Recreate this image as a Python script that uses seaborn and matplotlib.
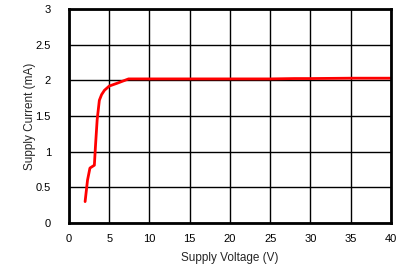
import matplotlib
matplotlib.use("Agg")
import matplotlib.pyplot as plt
import seaborn as sns
import pandas as pd

voltage = [2.0, 2.3, 2.6, 3.15, 3.3, 3.5, 3.77, 4.05, 4.4, 5.0, 6.0, 7.4, 10, 15, 20, 25, 28, 30, 35, 40]
current = [0.30, 0.60, 0.77, 0.81, 1.10, 1.45, 1.72, 1.80, 1.86, 1.92, 1.96, 2.02, 2.02, 2.02, 2.02, 2.02, 2.025, 2.025, 2.03, 2.03]

x_ticks = [0, 5, 10, 15, 20, 25, 30, 35, 40]
y_ticks = [0, 0.5, 1, 1.5, 2, 2.5, 3]
y_tick_labels = ["0", "0.5", "1", "1.5", "2", "2.5", "3"]

sns.set_style("white")
plt.rcParams['font.family'] = ['Liberation Sans', 'DejaVu Sans']

df = pd.DataFrame({"Supply Voltage (V)": voltage, "Supply Current (mA)": current})

fig = plt.figure(figsize=(4.06, 2.66), dpi=100)
ax = fig.add_axes([69/406, 1 - 223/266, (391 - 69)/406, (223 - 9)/266])
sns.lineplot(data=df, x="Supply Voltage (V)", y="Supply Current (mA)", ax=ax,
             color="#ff0000", linewidth=2.0)

ax.set_xlim(0, 40)
ax.set_ylim(0, 3)
ax.set_xticks(x_ticks)
ax.set_yticks(y_ticks)
ax.set_yticklabels(y_tick_labels)
ax.grid(True, color="black", linewidth=1.0)
ax.set_axisbelow(True)
for s in ax.spines.values():
    s.set_color("black")
    s.set_linewidth(2.0)
ax.tick_params(axis="both", length=0, labelsize=8, colors="black")
ax.tick_params(axis="y", pad=13)
ax.tick_params(axis="x", pad=8)
ax.set_xlabel("Supply Voltage (V)", fontsize=8.5)
ax.set_ylabel("Supply Current (mA)", fontsize=8.5)
ax.xaxis.set_label_coords(0.5, -(258 - 223) / 214, transform=ax.transAxes)
ax.yaxis.set_label_coords((30 - 69) / 322, 0.5, transform=ax.transAxes)
ax.xaxis.label.set_va("center")
ax.yaxis.label.set_va("center")

fig.savefig("out.png", dpi=100)
